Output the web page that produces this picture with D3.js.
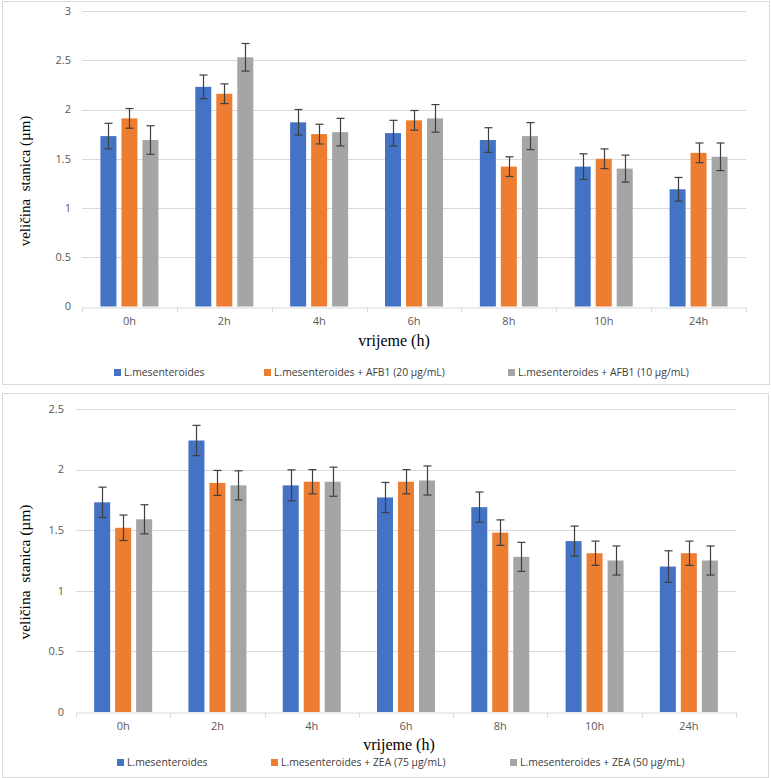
<!DOCTYPE html>
<html>
<head>
<meta charset="utf-8">
<script src="https://cdn.jsdelivr.net/npm/d3@7/dist/d3.min.js"></script>
<style>
  html, body { margin: 0; padding: 0; background: #fff; }
  svg { display: block; }
</style>
</head>
<body>
<svg id="chart" width="771" height="778"></svg>
<script>
// ---- data ----
const categories = ["0h", "2h", "4h", "6h", "8h", "10h", "24h"];

const seriesNamesA = ["L.mesenteroides", "L.mesenteroides + AFB1 (20 µg/mL)", "L.mesenteroides + AFB1 (10 µg/mL)"];
const controlA = [1.73, 2.23, 1.87, 1.76, 1.69, 1.42, 1.19];
const afb20 = [1.91, 2.16, 1.75, 1.89, 1.42, 1.50, 1.56];
const afb10 = [1.69, 2.53, 1.77, 1.91, 1.73, 1.40, 1.52];
const controlAErr = [0.13, 0.12, 0.13, 0.13, 0.125, 0.13, 0.12];
const afb20Err = [0.10, 0.10, 0.10, 0.10, 0.10, 0.10, 0.10];
const afb10Err = [0.145, 0.14, 0.14, 0.14, 0.137, 0.137, 0.14];
const ticksA = [0, 0.5, 1, 1.5, 2, 2.5, 3];

const seriesNamesB = ["L.mesenteroides", "L.mesenteroides + ZEA (75 µg/mL)", "L.mesenteroides + ZEA (50 µg/mL)"];
const controlB = [1.73, 2.24, 1.87, 1.77, 1.69, 1.41, 1.20];
const zea75 = [1.52, 1.89, 1.90, 1.90, 1.48, 1.31, 1.31];
const zea50 = [1.59, 1.87, 1.90, 1.91, 1.28, 1.25, 1.25];
const controlBErr = [0.125, 0.125, 0.128, 0.124, 0.125, 0.124, 0.13];
const zea75Err = [0.105, 0.103, 0.10, 0.10, 0.105, 0.10, 0.10];
const zea50Err = [0.12, 0.12, 0.12, 0.12, 0.12, 0.12, 0.12];
const ticksB = [0, 0.5, 1, 1.5, 2, 2.5];

const colors = ["#4472C4", "#ED7D31", "#A5A5A5"];
const yTitle = "veličina  stanica (µm)";
const xTitle = "vrijeme (h)";

const svg = d3.select("#chart");

function drawChart(cfg) {
  const g = svg.append("g");
  // frame
  g.append("rect")
    .attr("x", cfg.frame[0] + 0.5).attr("y", cfg.frame[1] + 0.5)
    .attr("width", cfg.frame[2]).attr("height", cfg.frame[3])
    .attr("fill", "#fff").attr("stroke", "#d9d9d9").attr("stroke-width", 1);

  const x0 = d3.scaleBand().domain(categories).range([cfg.left, cfg.right]).padding(0);
  const groupW = 58;
  const x1 = d3.scaleBand().domain([0, 1, 2]).range([0, groupW]).paddingInner(5 / 21).paddingOuter(0);
  const y = d3.scaleLinear().domain([0, cfg.ymax]).range([cfg.bottom, cfg.top]);

  // gridlines
  g.append("g").selectAll("line").data(cfg.ticks.filter(t => t > 0)).join("line")
    .attr("x1", cfg.left).attr("x2", cfg.right)
    .attr("y1", d => Math.round(y(d)) + 0.5).attr("y2", d => Math.round(y(d)) + 0.5)
    .attr("stroke", "#d9d9d9").attr("stroke-width", 1);

  // y tick labels
  g.append("g").selectAll("text").data(cfg.ticks).join("text")
    .attr("x", cfg.left - cfg.ylabGap).attr("y", d => y(d))
    .attr("dy", "0.35em").attr("text-anchor", "end")
    .attr("font-family", "'Open Sans', 'Liberation Sans', sans-serif")
    .attr("font-size", 11).attr("fill", "#595959")
    .text(d => d);

  // x axis
  const xAxis = d3.axisBottom(x0).tickSize(0).tickPadding(10);
  const ax = g.append("g").attr("transform", `translate(0,${Math.round(cfg.bottom) + 0.5})`).call(xAxis);
  ax.select(".domain").attr("stroke", "#d9d9d9");
  ax.selectAll("text")
    .attr("font-family", "'Open Sans', 'Liberation Sans', sans-serif")
    .attr("font-size", 11).attr("fill", "#595959");
  // category separator ticks
  const bounds = categories.map(c => x0(c)).concat([cfg.right]);
  ax.append("g").selectAll("line").data(bounds).join("line")
    .attr("x1", d => Math.round(d) + 0.5).attr("x2", d => Math.round(d) + 0.5)
    .attr("y1", 0).attr("y2", 5)
    .attr("stroke", "#d9d9d9");

  // bars
  const seriesData = cfg.values.map((vals, si) => vals.map((v, ci) => ({
    si, cat: categories[ci], v, e: cfg.errs[si][ci]
  })));
  const offset = (x0.bandwidth() - groupW) / 2;
  const bars = g.append("g");
  seriesData.forEach((sd, si) => {
    bars.append("g").selectAll("rect").data(sd).join("rect")
      .attr("x", d => x0(d.cat) + offset + x1(d.si))
      .attr("width", x1.bandwidth())
      .attr("y", d => y(d.v))
      .attr("height", d => y(0) - y(d.v))
      .attr("fill", colors[si]);
  });
  // error bars
  const eg = g.append("g").attr("stroke", "#3f3f3f").attr("stroke-width", 1.2);
  seriesData.forEach(sd => {
    sd.forEach(d => {
      const cx = Math.round(x0(d.cat) + offset + x1(d.si) + x1.bandwidth() / 2) + 0.5;
      const yt = y(d.v + d.e), yb = y(d.v - d.e);
      eg.append("line").attr("x1", cx).attr("x2", cx).attr("y1", yt).attr("y2", yb);
      eg.append("line").attr("x1", cx - 4).attr("x2", cx + 4).attr("y1", yt).attr("y2", yt);
      eg.append("line").attr("x1", cx - 4).attr("x2", cx + 4).attr("y1", yb).attr("y2", yb);
    });
  });

  // y title
  g.append("text")
    .attr("transform", `translate(${cfg.yTitlePos[0]},${cfg.yTitlePos[1]}) rotate(-90)`)
    .attr("text-anchor", "middle").attr("dy", "0.35em")
    .attr("font-family", "'Liberation Serif', 'Times New Roman', serif")
    .attr("font-size", cfg.yTitleSize).attr("fill", "#000")
    .style("white-space", "pre")
    .text(yTitle);

  // x title
  g.append("text")
    .attr("x", cfg.xTitlePos[0]).attr("y", cfg.xTitlePos[1])
    .attr("text-anchor", "middle").attr("dy", "0.35em")
    .attr("font-family", "'Liberation Serif', 'Times New Roman', serif")
    .attr("font-size", 16).attr("fill", "#000")
    .text(xTitle);

  // legend
  const lg = g.append("g");
  cfg.names.forEach((n, i) => {
    lg.append("rect")
      .attr("x", cfg.legendX[i]).attr("y", cfg.legendY - 3.5)
      .attr("width", 7).attr("height", 7).attr("fill", colors[i]);
    lg.append("text")
      .attr("x", cfg.legendX[i] + 10).attr("y", cfg.legendY).attr("dy", "0.35em")
      .attr("font-family", "'Open Sans', 'Liberation Sans', sans-serif")
      .attr("font-size", 10.4).attr("fill", "#404040")
      .text(n);
  });
}

drawChart({
  frame: [2, 1, 767, 383],
  left: 82, right: 746, top: 11, bottom: 306.5, ymax: 3,
  ticks: ticksA, ylabGap: 11,
  values: [controlA, afb20, afb10],
  errs: [controlAErr, afb20Err, afb10Err],
  names: seriesNamesA,
  yTitlePos: [25, 181], yTitleSize: 15,
  xTitlePos: [394, 340],
  legendX: [114, 264, 508], legendY: 372.5
});

drawChart({
  frame: [2, 393, 766, 384],
  left: 76, right: 736, top: 409, bottom: 712, ymax: 2.5,
  ticks: ticksB, ylabGap: 12,
  values: [controlB, zea75, zea50],
  errs: [controlBErr, zea75Err, zea50Err],
  names: seriesNamesB,
  yTitlePos: [25, 572], yTitleSize: 15.5,
  xTitlePos: [399, 744],
  legendX: [117, 271, 510], legendY: 762.5
});
</script>
</body>
</html>
